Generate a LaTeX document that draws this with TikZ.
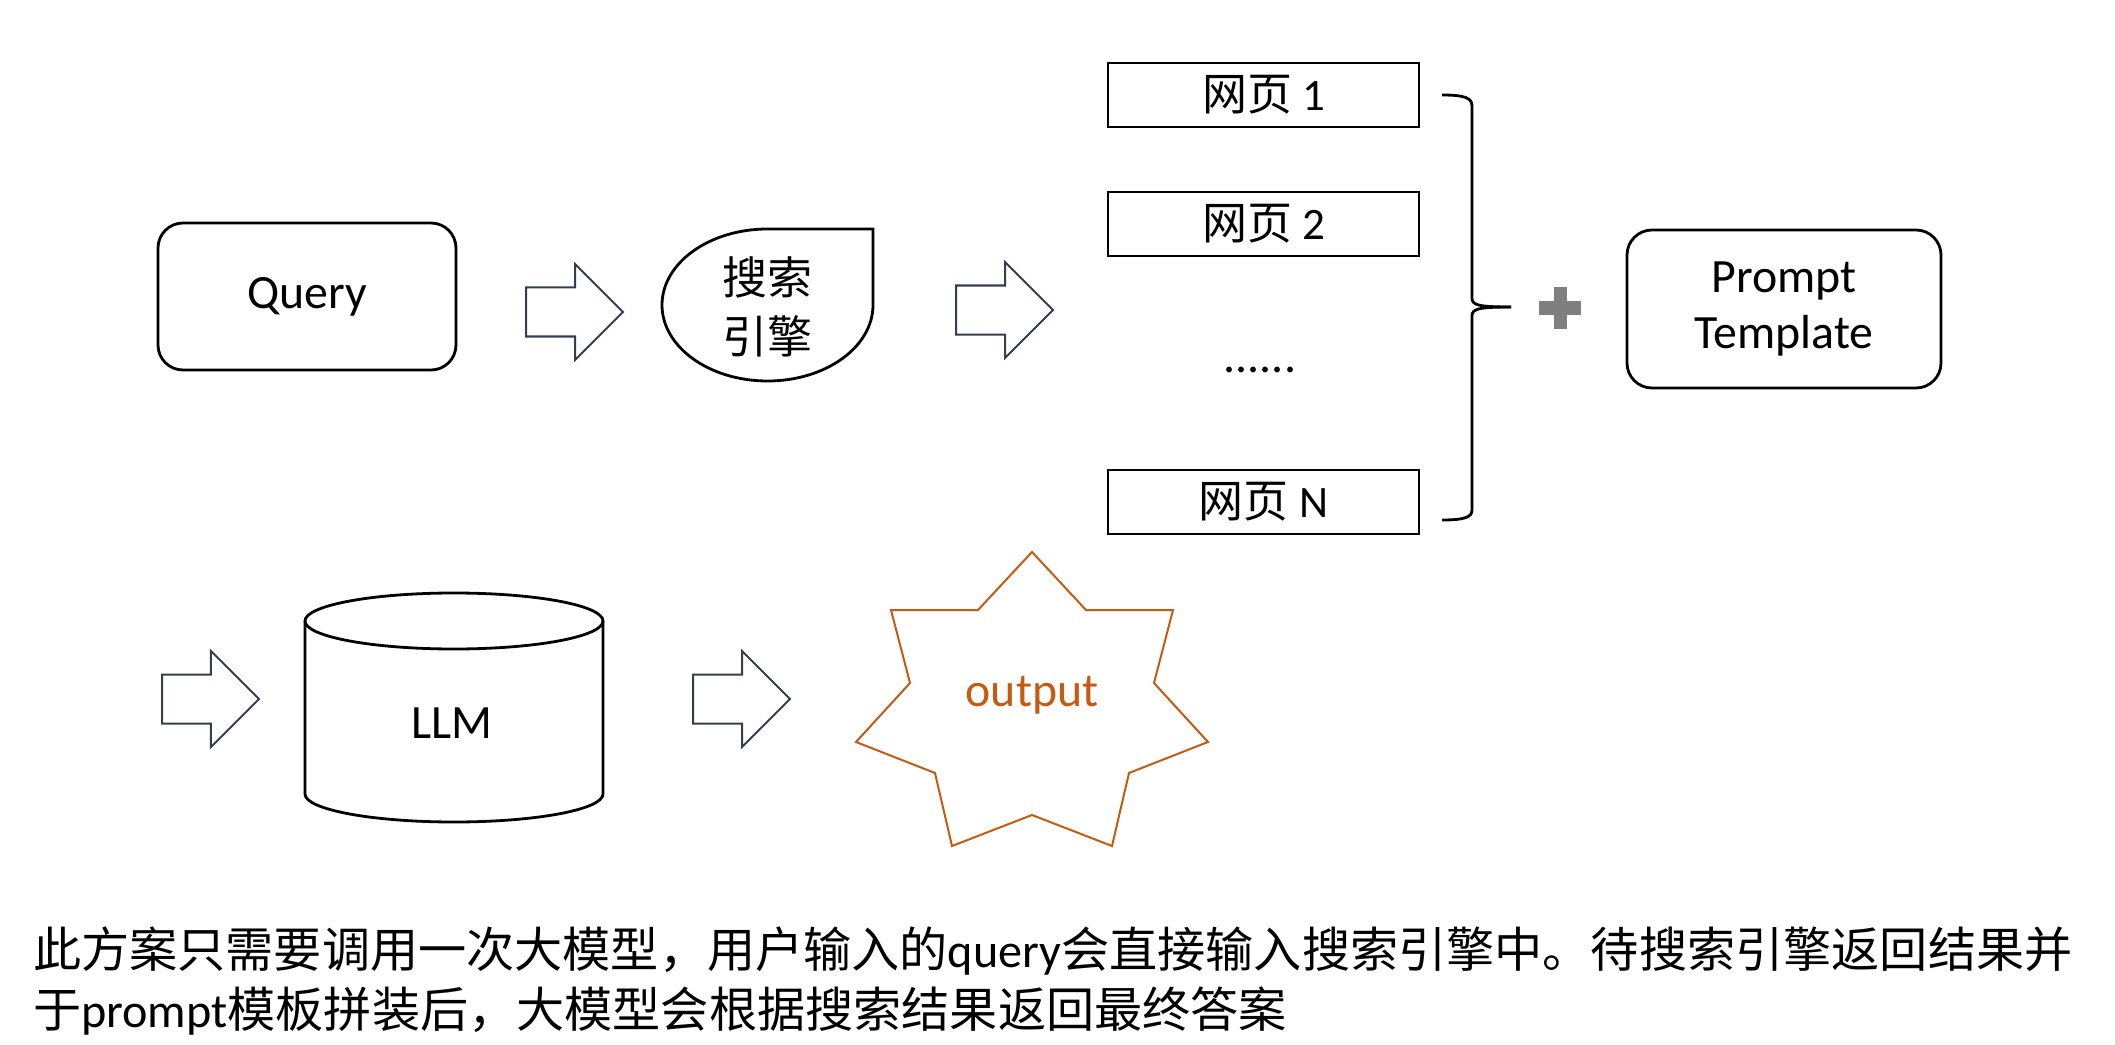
\documentclass[tikz,border=0pt]{standalone}
\usepackage{fontspec}
\setmainfont{Carlito}
\newfontfamily\cjk{Noto Sans CJK SC}
\usetikzlibrary{shapes.arrows}
\definecolor{arrowline}{RGB}{50,63,80}
\definecolor{outorange}{RGB}{197,90,17}
\definecolor{plusgray}{RGB}{127,127,127}

\begin{document}
\begin{tikzpicture}[
		line width=0.028cm,
		font=\fontsize{13.6}{16.2}\selectfont,
		roundbox/.style={draw, rounded corners=0.25cm, align=center, inner sep=0pt},
		pagebox/.style={draw, minimum width=3.11cm, minimum height=0.64cm, inner sep=0pt, font=\fontsize{12.8}{15.6}\selectfont},
		blockarrow/.style={single arrow, draw=arrowline, fill=white, line width=0.02cm, minimum height=0.97cm, inner xsep=0pt, inner ysep=0.235cm, single arrow head extend=0.235cm, single arrow tip angle=90, outer sep=0pt, anchor=tail}
	]
		\useasboundingbox ( 0.00, 0.00 ) rectangle ( 21.15, 10.44 );

		% 查询
		\node [roundbox, minimum width=2.98cm, minimum height=1.47cm] (query) at ( 3.07, 7.475 ) {Query};
		\node [blockarrow] (arrowA) at ( 5.26, 7.32 ) {};

		% 搜索引擎
		\draw ( 8.73, 8.15 ) -- ( 8.73, 7.39 ) arc [start angle=0, end angle=-180, x radius=1.055, y radius=0.76] arc [start angle=180, end angle=90, x radius=1.055, y radius=0.76] -- cycle;
		\node [align=center, font=\fontsize{12.8}{16.8}\selectfont\cjk] (search) at ( 7.67, 7.37 ) {搜索\\引擎};
		\node [blockarrow] (arrowB) at ( 9.56, 7.34 ) {};

		% 网页
		\node [pagebox] (page1) at ( 12.635, 9.49 ) {{\cjk 网页} 1};
		\node [pagebox] (page2) at ( 12.635, 8.20 ) {{\cjk 网页} 2};
		\node (pagedots) at ( 12.60, 6.74 ) {......};
		\node [pagebox] (pageN) at ( 12.635, 5.42 ) {{\cjk 网页} N};

		% 括号
		\draw ( 14.42, 9.49 ) .. controls ( 14.65, 9.49 ) and ( 14.72, 9.46 ) .. ( 14.72, 9.38 ) -- ( 14.72, 7.46 ) .. controls ( 14.72, 7.39 ) and ( 14.78, 7.37 ) .. ( 15.11, 7.37 );
		\draw ( 15.11, 7.37 ) .. controls ( 14.78, 7.37 ) and ( 14.72, 7.35 ) .. ( 14.72, 7.28 ) -- ( 14.72, 5.34 ) .. controls ( 14.72, 5.27 ) and ( 14.65, 5.24 ) .. ( 14.42, 5.24 );

		% 加号
		\fill [plusgray] ( 15.39, 7.295 ) rectangle ( 15.81, 7.425 );
		\fill [plusgray] ( 15.535, 7.15 ) rectangle ( 15.665, 7.57 );

		% 提示模板
		\node [roundbox, minimum width=3.14cm, minimum height=1.58cm] (prompt) at ( 17.84, 7.35 ) {Prompt\\Template};

		% 大模型
		\node [blockarrow] (arrowC) at ( 1.62, 3.45 ) {};
		\draw ( 3.05, 4.23 ) -- ( 3.05, 2.50 ) arc [start angle=180, end angle=360, x radius=1.49, y radius=0.28] -- ( 6.03, 4.23 );
		\draw ( 4.54, 4.23 ) ellipse [x radius=1.49, y radius=0.28];
		\node (llm) at ( 4.52, 3.21 ) {LLM};
		\node [blockarrow] (arrowD) at ( 6.93, 3.45 ) {};

		% 输出
		\draw [outorange, line width=0.02cm] ( 10.32, 4.92 ) -- ( 10.86, 4.34 ) -- ( 11.73, 4.34 ) -- ( 11.54, 3.61 ) -- ( 12.08, 3.02 ) -- ( 11.29, 2.71 ) -- ( 11.12, 1.98 ) -- ( 10.32, 2.29 ) -- ( 9.52, 1.98 ) -- ( 9.35, 2.71 ) -- ( 8.56, 3.02 ) -- ( 9.10, 3.61 ) -- ( 8.91, 4.34 ) -- ( 9.78, 4.34 ) -- cycle;
		\node [text=outorange] (output) at ( 10.32, 3.49 ) {output};

		% 说明
		\node [anchor=west, align=left, font=\fontsize{13.7}{17.2}\selectfont] (note) at ( 0.20, 0.63 ) {{\cjk 此方案只需要调用一次大模型，用户输入的}query{\cjk 会直接输入搜索引擎中。待搜索引擎返回结果并}\\{\cjk 于}prompt{\cjk 模板拼装后，大模型会根据搜索结果返回最终答案}};
	\end{tikzpicture}
\end{document}
